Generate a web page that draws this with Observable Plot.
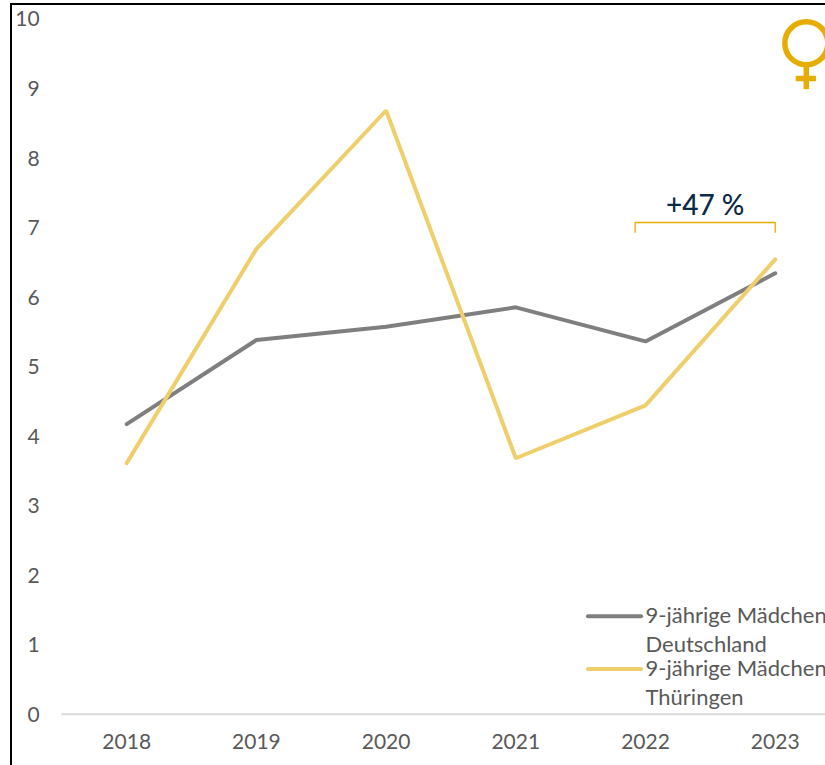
<!DOCTYPE html>
<html><head><meta charset="utf-8">
<script src="https://cdn.jsdelivr.net/npm/d3@7"></script>
<script src="https://cdn.jsdelivr.net/npm/@observablehq/plot@0.6"></script>
<style>
html,body{margin:0;padding:0;background:#fff;overflow:hidden;width:825px;height:765px}
#chart{position:relative;width:825px;height:765px}
#chart svg{display:block;position:absolute;left:0;top:0}
#frame{position:absolute;left:10px;top:3px;width:830px;height:780px;border-left:2px solid #000;border-top:2px solid #000;pointer-events:none}
</style></head><body>
<div id="chart"><div id="frame"></div></div>
<script>
const years=[2018,2019,2020,2021,2022,2023];
const deutschland=[4.17,5.38,5.57,5.85,5.36,6.34];
const thueringen=[3.61,6.69,8.68,3.68,4.44,6.54];
const yTicks=[0,1,2,3,4,5,6,7,8,9,10];
const grey="#7f7f7f", yellow="#efcf6b", gold="#e6ac00", textCol="#595959", navy="#0b2a45";
const rows=s=>years.map((year,i)=>({year,value:s[i]}));

const legendRows=[
  {label:"9-jährige Mädchen",sub:"Deutschland",color:grey,y:1.41,suby:1.0},
  {label:"9-jährige Mädchen",sub:"Thüringen",color:yellow,y:0.65,suby:0.24}
];
const xl1=2021.56,xl2=2021.97,xlt=2022.0;

const plot=Plot.plot({
  width:825,height:765,
  marginLeft:126.2,marginRight:50.3,marginTop:18.2,marginBottom:51.3,
  style:{fontFamily:"Lato, Carlito, sans-serif",fontSize:"21px",background:"transparent",overflow:"hidden"},
  x:{domain:[2018,2023]},
  y:{domain:[0,10]},
  marks:[
    Plot.ruleY([0],{x1:2017.5,x2:2023.5,stroke:"#d9d9d9",strokeWidth:2}),
    Plot.axisY({ticks:yTicks,tickSize:0,tickPadding:87,label:null,fontSize:21,fill:textCol,dy:1}),
    Plot.axisX({ticks:years,tickFormat:"d",tickSize:0,tickPadding:20,label:null,fontSize:21,fill:textCol}),
    Plot.line(rows(deutschland),{x:"year",y:"value",stroke:grey,strokeWidth:4,strokeLinejoin:"miter",strokeLinecap:"round"}),
    Plot.line(rows(thueringen),{x:"year",y:"value",stroke:yellow,strokeWidth:4,strokeLinejoin:"miter",strokeLinecap:"round"}),
    // bracket
    Plot.line([{x:2021.92,y:6.93},{x:2021.92,y:7.07},{x:2023,y:7.07},{x:2023,y:6.93}],{x:"x",y:"y",stroke:gold,strokeWidth:1.3}),
    Plot.text(["+47 %"],{x:[2022.46],y:[7.31],fill:navy,fontSize:28,fontWeight:500,textAnchor:"middle"}),
    // Venus symbol
    Plot.dot([0],{x:()=>2023.24,y:()=>9.648,r:21.5,stroke:gold,strokeWidth:5.5,fill:"none"}),
    Plot.ruleX([2023.24],{y1:9.3,y2:8.98,stroke:gold,strokeWidth:5.5}),
    Plot.ruleY([9.14],{x1:2023.162,x2:2023.318,stroke:gold,strokeWidth:5.5}),
    // legend
    Plot.ruleY(legendRows,{y:"y",x1:xl1,x2:xl2,stroke:"color",strokeWidth:4,strokeLinecap:"round"}),
    Plot.text(legendRows,{x:xlt,y:"y",text:"label",textAnchor:"start",fontSize:22,fill:textCol}),
    Plot.text(legendRows,{x:xlt,y:"suby",text:"sub",textAnchor:"start",fontSize:22,fill:textCol})
  ]
});
document.getElementById("chart").prepend(plot);
</script>
</body></html>
